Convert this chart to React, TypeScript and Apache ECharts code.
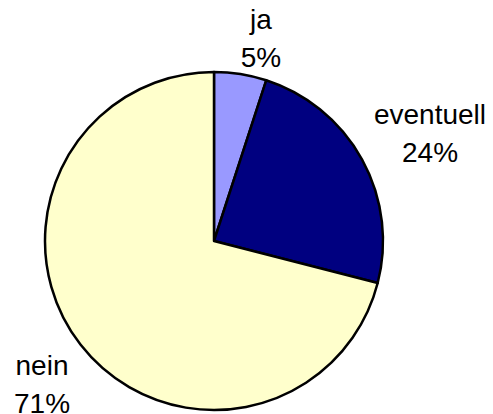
import React, { useEffect, useRef } from "react";
import * as echarts from "echarts";

const categories = ["ja", "eventuell", "nein"];
const values = [5, 24, 71];
const colors = ["#9999FF", "#000080", "#FFFFCC"];
// label block centres (pixels)
const labelCenters: [number, number][] = [
  [261, 38],
  [430, 133],
  [42, 384],
];

export default function App() {
  const ref = useRef<HTMLDivElement>(null);
  useEffect(() => {
    document.body.style.margin = "0";
    const chart = echarts.init(ref.current!, null, { renderer: "svg" });
    chart.setOption({
      animation: false,
      backgroundColor: "#ffffff",
      series: [
        {
          type: "pie",
          center: [214, 241],
          radius: [0, 169],
          startAngle: 90,
          clockwise: true,
          avoidLabelOverlap: false,
          data: categories.map((c, i) => ({
            name: c,
            value: values[i],
            itemStyle: { color: colors[i] },
          })),
          itemStyle: { borderColor: "#000000", borderWidth: 2.5 },
          emphasis: { disabled: true },
          label: {
            show: true,
            position: "outside",
            overflow: "none",
            edgeDistance: 0,
            formatter: (p: any) => `${p.name}\n${Math.round(p.percent)}%`,
            fontFamily: "Liberation Sans, Arial, sans-serif",
            fontSize: 28,
            lineHeight: 38,
            color: "#000000",
            align: "center",
          },
          labelLine: { show: false },
          labelLayout: (params: any) => {
            const c = labelCenters[params.dataIndex];
            return { x: c[0], y: c[1], align: "center", verticalAlign: "middle" };
          },
        },
      ],
    });
    return () => chart.dispose();
  }, []);
  return <div ref={ref} style={{ width: 493, height: 414 }} />;
}
